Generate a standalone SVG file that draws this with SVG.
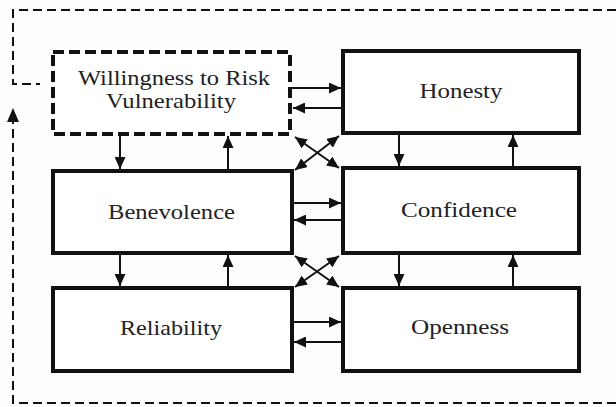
<svg xmlns="http://www.w3.org/2000/svg" width="616" height="407" viewBox="0 0 616 407">
<style>
.bg{fill:#fdfdfb}
.box{fill:#fff;stroke:#111;stroke-width:4}
.dbox{fill:#fff;stroke:#111;stroke-width:4;stroke-dasharray:11 5}
.lbl{font-family:"Liberation Serif","Times New Roman",serif;font-size:21px;fill:#222;text-anchor:middle}
.arr{stroke:#111;stroke-width:2;fill:none;marker-end:url(#ah)}
.dbl{stroke:#111;stroke-width:2;fill:none;marker-end:url(#ah);marker-start:url(#ah)}
.frame{stroke:#111;stroke-width:2;fill:none;stroke-dasharray:9 5}
</style>
<defs>
<marker id="ah" markerUnits="userSpaceOnUse" markerWidth="12" markerHeight="11" refX="12" refY="5.5" orient="auto-start-reverse">
<path d="M0,0 L12,5.5 L0,11 z" fill="#111"/>
</marker>
</defs>
<rect class="bg" x="0" y="0" width="616" height="407"/>
<g id="frame">
<path class="frame" d="M616,10 H13 V84 H40"/>
<path class="frame" d="M616,403 H13 V122"/>
<path d="M7,122 L13,108 L19,122 z" fill="#111"/>
</g>
<g id="n-willingness">
<rect class="dbox" x="53" y="52" width="237" height="82"/>
<text class="lbl" x="174" y="85" textLength="192" lengthAdjust="spacingAndGlyphs">Willingness to Risk</text>
<text class="lbl" x="171" y="108" textLength="130" lengthAdjust="spacingAndGlyphs">Vulnerability</text>
</g>
<g id="n-honesty">
<rect class="box" x="343" y="51" width="236" height="82"/>
<text class="lbl" x="461" y="98" textLength="83" lengthAdjust="spacingAndGlyphs">Honesty</text>
</g>
<g id="n-benevolence">
<rect class="box" x="53" y="171" width="239" height="82"/>
<text class="lbl" x="171.5" y="219" textLength="127" lengthAdjust="spacingAndGlyphs">Benevolence</text>
</g>
<g id="n-confidence">
<rect class="box" x="343" y="168" width="236" height="85"/>
<text class="lbl" x="459" y="217" textLength="116" lengthAdjust="spacingAndGlyphs">Confidence</text>
</g>
<g id="n-reliability">
<rect class="box" x="53" y="288" width="239" height="83"/>
<text class="lbl" x="171" y="335" textLength="102" lengthAdjust="spacingAndGlyphs">Reliability</text>
</g>
<g id="n-openness">
<rect class="box" x="343" y="288" width="236" height="83"/>
<text class="lbl" x="460" y="334" textLength="98" lengthAdjust="spacingAndGlyphs">Openness</text>
</g>
<g id="connectors">
<!-- row 1 horizontal -->
<line class="arr" x1="292" y1="88" x2="341" y2="88"/>
<line class="arr" x1="341" y1="108" x2="293" y2="108"/>
<!-- row 2 horizontal -->
<line class="arr" x1="294" y1="203" x2="341" y2="203"/>
<line class="arr" x1="341" y1="220" x2="294" y2="220"/>
<!-- row 3 horizontal -->
<line class="arr" x1="294" y1="322" x2="341" y2="322"/>
<line class="arr" x1="341" y1="342" x2="294" y2="342"/>
<!-- vertical rows 1-2 -->
<line class="arr" x1="120" y1="136" x2="120" y2="169"/>
<line class="arr" x1="228" y1="169" x2="228" y2="136"/>
<line class="arr" x1="399" y1="135" x2="399" y2="166"/>
<line class="arr" x1="513" y1="166" x2="513" y2="135"/>
<!-- vertical rows 2-3 -->
<line class="arr" x1="120" y1="255" x2="120" y2="286"/>
<line class="arr" x1="228" y1="286" x2="228" y2="255"/>
<line class="arr" x1="399" y1="255" x2="399" y2="286"/>
<line class="arr" x1="513" y1="286" x2="513" y2="255"/>
<!-- crosses -->
<line class="dbl" x1="295" y1="137" x2="339" y2="168"/>
<line class="dbl" x1="339" y1="136" x2="295" y2="170"/>
<line class="dbl" x1="295" y1="256" x2="339" y2="287"/>
<line class="dbl" x1="339" y1="256" x2="295" y2="287"/>
</g>
</svg>
